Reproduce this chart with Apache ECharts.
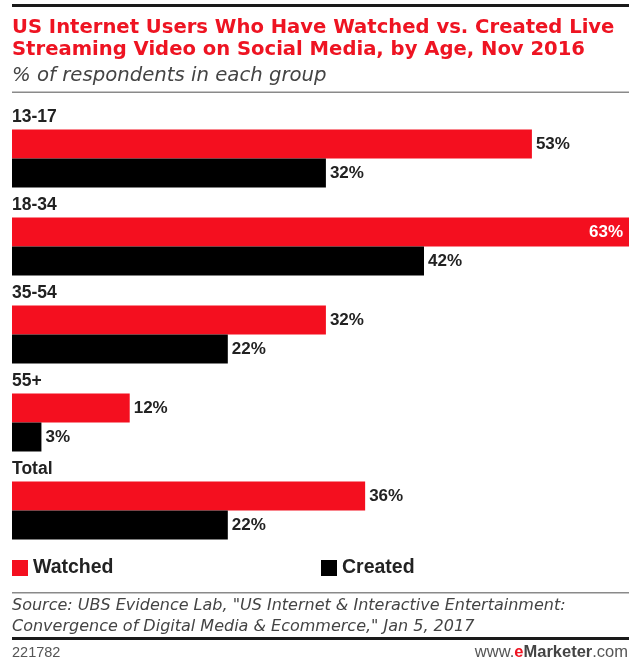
<!DOCTYPE html>
<html>
<head>
<meta charset="utf-8">
<script src="https://cdn.jsdelivr.net/npm/echarts@6/dist/echarts.min.js"></script>
<style>
  html, body { margin: 0; padding: 0; background: #ffffff; }
  #chart { width: 629px; height: 659px; }
</style>
</head>
<body>
<div id="chart"></div>
<script>
// Age groups, top to bottom
const categories = ['13-17', '18-34', '35-54', '55+', 'Total'];
// % of respondents in each group
const watched = [53, 63, 32, 12, 36];
const created = [32, 42, 22, 3, 22];
const seriesNames = ['Watched', 'Created'];

const RED = '#f40f1f';
const TITLE_RED = '#ee1422';
const FONT = '"Liberation Sans", Arial, sans-serif';
const WIDE = '"DejaVu Sans", Verdana, sans-serif';

const maxWatched = Math.max(...watched);

// The longest bar carries its label inside, in white
const watchedData = watched.map(v => v === maxWatched
  ? { value: v, label: { position: 'insideRight', color: '#ffffff', distance: 7 } }
  : v);

const chart = echarts.init(document.getElementById('chart'), null, { renderer: 'canvas' });

const barLabel = {
  show: true,
  position: 'right',
  distance: 4,
  formatter: '{c}%',
  fontFamily: FONT,
  fontWeight: 'bold',
  fontSize: 17,
  color: '#222222'
};

const legendText = { fontFamily: FONT, fontWeight: 'bold', fontSize: 19.5, color: '#222222' };

chart.setOption({
  backgroundColor: '#ffffff',
  animation: false,
  title: {
    left: 12,
    top: 17,
    padding: 0,
    text: 'US Internet Users Who Have Watched vs. Created Live\nStreaming Video on Social Media, by Age, Nov 2016',
    subtext: '% of respondents in each group',
    itemGap: 4,
    textStyle: {
      fontFamily: WIDE,
      fontWeight: 'bold',
      fontSize: 19.6,
      lineHeight: 22,
      color: TITLE_RED
    },
    subtextStyle: {
      fontFamily: WIDE,
      fontStyle: 'italic',
      fontSize: 19.7,
      lineHeight: 22,
      color: '#444444'
    }
  },
  legend: [
    {
      data: [seriesNames[0]],
      left: 12, top: 558, padding: 0,
      itemWidth: 16, itemHeight: 16,
      icon: 'rect',
      textStyle: legendText
    },
    {
      data: [seriesNames[1]],
      left: 321, top: 558, padding: 0,
      itemWidth: 16, itemHeight: 16,
      icon: 'rect',
      textStyle: legendText
    }
  ],
  grid: {
    left: 12,
    top: 114.5,
    width: 618,
    height: 440,
    outerBoundsMode: 'none',
    containLabel: false
  },
  xAxis: {
    type: 'value',
    min: 0,
    max: maxWatched,
    show: false
  },
  yAxis: {
    type: 'category',
    data: categories,
    inverse: true,
    axisLine: { show: false },
    axisTick: { show: false },
    splitLine: { show: false },
    axisLabel: {
      inside: true,
      margin: 0,
      align: 'left',
      verticalAlign: 'bottom',
      lineHeight: 17,
      padding: [0, 0, 33, 0],
      fontFamily: FONT,
      fontWeight: 'bold',
      fontSize: 17.5,
      color: '#222222'
    }
  },
  series: [
    {
      name: seriesNames[0],
      type: 'bar',
      data: watchedData,
      barWidth: 29,
      barGap: '0%',
      itemStyle: { color: RED },
      label: barLabel
    },
    {
      name: seriesNames[1],
      type: 'bar',
      data: created,
      barWidth: 29,
      barGap: '0%',
      itemStyle: { color: '#000000' },
      label: barLabel
    }
  ],
  graphic: [
    // header and footer rules
    { type: 'rect', shape: { x: 12, y: 4, width: 617, height: 3 }, style: { fill: '#1a1a1a' } },
    { type: 'rect', shape: { x: 12, y: 91.5, width: 617, height: 1.5 }, style: { fill: '#8a8a8a' } },
    { type: 'rect', shape: { x: 12, y: 592, width: 617, height: 1.5 }, style: { fill: '#8a8a8a' } },
    { type: 'rect', shape: { x: 12, y: 637, width: 617, height: 3 }, style: { fill: '#1a1a1a' } },
    {
      type: 'text', left: 12, top: 596,
      style: {
        text: 'Source: UBS Evidence Lab, "US Internet & Interactive Entertainment:\nConvergence of Digital Media & Ecommerce," Jan 5, 2017',
        fontFamily: WIDE, fontStyle: 'italic', fontSize: 16, lineHeight: 20.5, fill: '#444444'
      }
    },
    {
      type: 'text', left: 12, top: 645,
      style: { text: '221782', fontFamily: FONT, fontSize: 14.5, fill: '#555555' }
    },
    {
      type: 'text', right: 1, top: 644,
      style: {
        text: '{w|www.}{e|e}{m|Marketer}{w|.com}',
        rich: {
          w: { fontFamily: FONT, fontSize: 16.5, fill: '#555555' },
          e: { fontFamily: FONT, fontSize: 16.5, fontWeight: 'bold', fill: TITLE_RED },
          m: { fontFamily: FONT, fontSize: 16.5, fontWeight: 'bold', fill: '#444444' }
        }
      }
    }
  ]
});
</script>
</body>
</html>
